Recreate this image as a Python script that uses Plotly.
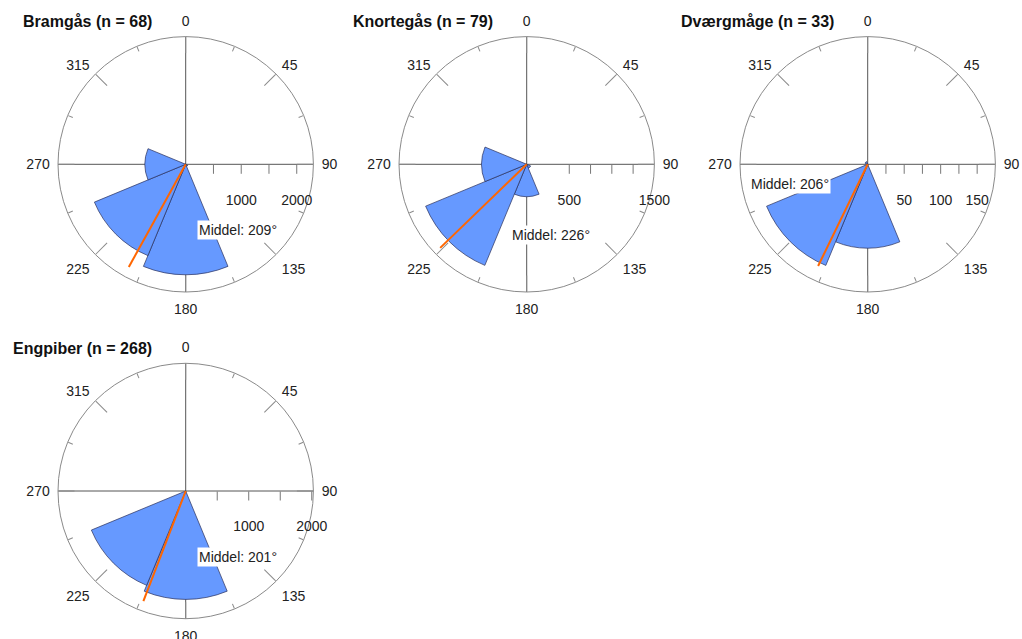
import plotly.graph_objects as go

# ---------------- data ----------------
species = ["Bramgås", "Knortegås", "Dværgmåge", "Engpiber"]
n_obs = [68, 79, 33, 268]
bin_centers = [0, 45, 90, 135, 180, 225, 270, 315]
bramgas_vals = [0, 0, 0, 40, 1990, 1780, 735, 0]
knortegas_vals = [0, 0, 0, 50, 380, 1285, 530, 0]
dvaergmage_vals = [0, 0, 0, 0, 115, 150, 0, 4]
engpiber_vals = [0, 0, 0, 0, 1720, 1620, 0, 0]
series_vals = [bramgas_vals, knortegas_vals, dvaergmage_vals, engpiber_vals]
mean_dirs = [209, 226, 206, 201]
mean_lengths = [2114, 1413, 155, 1873]
radial_max = [2300, 1500, 175, 2026]
radial_tick_vals = [[500, 1000, 1500, 2000], [500, 750, 1000, 1250],
                    [25, 50, 75, 100, 125, 150], [500, 1000, 1500, 2000]]
radial_label_vals = [[1000, 2000], [500, 1500], [50, 100, 150], [1000, 2000]]
angle_labels = [0, 45, 90, 135, 180, 225, 270, 315]
cardinal_angles = [0, 90, 180, 270]
minor_angles = [22.5, 67.5, 112.5, 157.5, 202.5, 247.5, 292.5, 337.5]

# ---------------- layout config ----------------
W, H = 1022, 639
R = 127.7
centers = [(185.7, 164.3), (526.7, 164.3), (867.7, 164.3), (185.7, 491.0)]
label_offsets = [(52, 66), (24, 71), (-78, 20), (52, 66)]  # px from centre
FONT = "Arial, Liberation Sans, sans-serif"
BAR_COLOR = "#6699FF"
LINE_COLOR = "#FF6600"
AX_COLOR = "#8a8a8a"
CROSS_COLOR = "#555555"
CLEAR = "rgba(0,0,0,0)"

fig = go.Figure()
layout = dict(width=W, height=H, margin=dict(l=0, r=0, t=0, b=0),
              paper_bgcolor="white", plot_bgcolor="white", showlegend=False,
              font=dict(family=FONT, size=14, color="#222222"))
annotations = []


def dom(cx, cy):
    return dict(x=[(cx - R) / W, (cx + R) / W], y=[1 - (cy + R) / H, 1 - (cy - R) / H])


def dummy(pid):
    return go.Scatterpolar(r=[0], theta=[0], mode="markers", marker=dict(opacity=0),
                           subplot=pid, hoverinfo="skip")


for i, (cx, cy) in enumerate(centers):
    pid_base = "polar" if i == 0 else f"polar{i + 1}"
    pid_main = f"polar{i + 5}"
    pid_diag = f"polar{i + 9}"
    pid_minor = f"polar{i + 13}"
    rng = [0, radial_max[i]]
    common_ang = dict(rotation=90, direction="clockwise", tickmode="array")

    # base polar: cross lines (drawn below the bars)
    fig.add_trace(dummy(pid_base))
    layout[pid_base] = dict(
        domain=dom(cx, cy), bgcolor=CLEAR,
        angularaxis=dict(**common_ang, tickvals=cardinal_angles, showticklabels=False,
                         showgrid=True, gridcolor=CROSS_COLOR, gridwidth=1,
                         showline=False, ticks=""),
        radialaxis=dict(range=rng, visible=False),
    )

    # main polar: bars, mean line, angle labels, radial labels
    fig.add_trace(go.Barpolar(r=series_vals[i], theta=bin_centers, width=45,
                              marker=dict(color=BAR_COLOR, line=dict(color="#2a2f5a", width=0.7)),
                              subplot=pid_main, hoverinfo="skip"))
    fig.add_trace(go.Scatterpolar(r=[0, mean_lengths[i]], theta=[mean_dirs[i], mean_dirs[i]],
                                  mode="lines", line=dict(color=LINE_COLOR, width=2),
                                  subplot=pid_main, hoverinfo="skip"))
    layout[pid_main] = dict(
        domain=dom(cx, cy), bgcolor=CLEAR,
        angularaxis=dict(**common_ang, tickvals=angle_labels,
                         ticktext=[str(a) for a in angle_labels],
                         showgrid=False, showline=True, linecolor=AX_COLOR, linewidth=1,
                         ticks="outside", ticklen=5, tickcolor=CLEAR,
                         tickfont=dict(size=14, color="#222222")),
        radialaxis=dict(range=rng, angle=0, showgrid=False, showline=False,
                        tickmode="array", tickvals=radial_label_vals[i],
                        ticktext=[str(v) for v in radial_label_vals[i]],
                        ticks="outside", ticklen=23, tickcolor=CLEAR,
                        tickfont=dict(size=14, color="#222222")),
    )

    # diagonal polar: long inside ticks every 45
    fig.add_trace(dummy(pid_diag))
    layout[pid_diag] = dict(
        domain=dom(cx, cy), bgcolor=CLEAR,
        angularaxis=dict(**common_ang, tickvals=angle_labels, showticklabels=False,
                         showgrid=False, showline=False, ticks="inside", ticklen=16,
                         tickcolor=AX_COLOR, tickwidth=1),
        radialaxis=dict(range=rng, visible=False),
    )

    # minor polar: short inside ticks at 22.5 offsets + radial tick marks
    fig.add_trace(dummy(pid_minor))
    layout[pid_minor] = dict(
        domain=dom(cx, cy), bgcolor=CLEAR,
        angularaxis=dict(**common_ang, tickvals=minor_angles, showticklabels=False,
                         showgrid=False, showline=False, ticks="inside", ticklen=5,
                         tickcolor=AX_COLOR, tickwidth=1),
        radialaxis=dict(range=rng, angle=0, showgrid=False, showline=False,
                        tickmode="array", tickvals=radial_tick_vals[i],
                        showticklabels=False, ticks="outside", ticklen=9,
                        tickcolor="#777777", tickwidth=1),
    )

    # title
    annotations.append(dict(text=f"<b>{species[i]} (n = {n_obs[i]})</b>", xref="paper", yref="paper",
                            x=(cx - 32) / W, y=1 - (cy - 143) / H, xanchor="right", yanchor="middle",
                            showarrow=False, font=dict(size=16, color="#111111", family=FONT)))
    # mean label
    dx, dy = label_offsets[i]
    annotations.append(dict(text=f"Middel: {mean_dirs[i]}°", xref="paper", yref="paper",
                            x=(cx + dx) / W, y=1 - (cy + dy) / H, xanchor="center", yanchor="middle",
                            showarrow=False, bgcolor="white", borderpad=1,
                            font=dict(size=14, color="#222222", family=FONT)))

layout["annotations"] = annotations
fig.update_layout(**layout)
fig.write_html("out.html")
